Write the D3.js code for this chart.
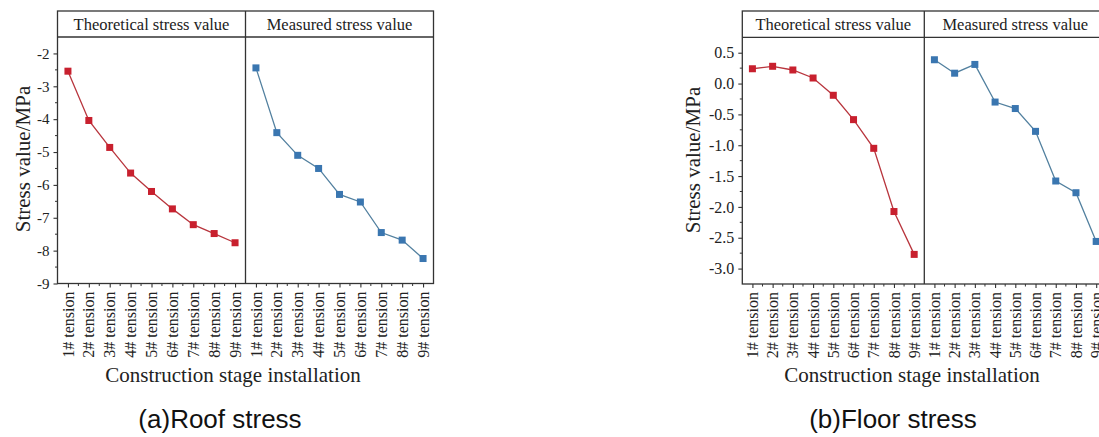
<!DOCTYPE html>
<html>
<head>
<meta charset="utf-8">
<script src="https://cdn.jsdelivr.net/npm/d3@7"></script>
<style>
  html, body { margin: 0; padding: 0; background: #fff; }
  svg { display: block; }
</style>
</head>
<body>
<svg id="fig" width="1099" height="437"></svg>
<script>
// Construction stages shared by both panels
const stages = ["1# tension", "2# tension", "3# tension", "4# tension", "5# tension",
                "6# tension", "7# tension", "8# tension", "9# tension"];
const panelTitles = ["Theoretical stress value", "Measured stress value"];

// (a) Roof stress, MPa
const roofTheoretical = [-2.54, -4.04, -4.86, -5.64, -6.20, -6.73, -7.21, -7.48, -7.76];
const roofMeasured    = [-2.44, -4.41, -5.10, -5.50, -6.29, -6.52, -7.45, -7.68, -8.24];
const roofTicks = [-9, -8, -7, -6, -5, -4, -3, -2];

// (b) Floor stress, MPa
const floorTheoretical = [0.24, 0.28, 0.22, 0.09, -0.19, -0.585, -1.05, -2.075, -2.77];
const floorMeasured    = [0.386, 0.168, 0.31, -0.30, -0.405, -0.775, -1.58, -1.77, -2.56];
const floorTicks = [-3.0, -2.5, -2.0, -1.5, -1.0, -0.5, 0.0, 0.5];

const RED_LINE = "#b8353d", RED_MARK = "#c8202e";
const BLUE_LINE = "#52809f", BLUE_MARK = "#3a76b0";
const FRAME = "#333";
const serif = "'Liberation Serif', 'Times New Roman', serif";

const svg = d3.select("#fig");

function drawChart(cfg) {
  const g = svg.append("g");
  const { x0, panelW, top, headBottom, bottom } = cfg;
  const y = d3.scaleLinear().domain(cfg.yDomain).range([bottom, headBottom]);

  const series = [
    { values: cfg.theoretical, line: RED_LINE, mark: RED_MARK },
    { values: cfg.measured, line: BLUE_LINE, mark: BLUE_MARK }
  ];

  series.forEach((s, i) => {
    const left = x0 + i * panelW;
    const x = d3.scalePoint().domain(stages).range([left, left + panelW]).padding(0.5);
    const pg = g.append("g");

    // header title
    pg.append("text")
      .attr("x", left + panelW / 2).attr("y", (top + headBottom) / 2)
      .attr("dy", "0.35em").attr("text-anchor", "middle")
      .attr("font-family", serif).attr("font-size", cfg.headSize).attr("fill", "#222")
      .text(panelTitles[i]);

    // connecting line and square markers
    const pts = stages.map((st, k) => [x(st), y(s.values[k])]);
    pg.append("path")
      .attr("d", d3.line()(pts))
      .attr("fill", "none").attr("stroke", s.line).attr("stroke-width", 1.3);
    pg.selectAll("rect.m").data(pts).join("rect")
      .attr("x", d => d[0] - 3.5).attr("y", d => d[1] - 3.5)
      .attr("width", 7).attr("height", 7).attr("fill", s.mark);

    // bottom axis with category labels
    const ax = d3.axisBottom(x).tickSize(4).tickFormat("");
    const axg = pg.append("g").attr("transform", `translate(0,${bottom})`).call(ax);
    axg.select(".domain").remove();
    axg.selectAll(".tick line").attr("stroke", FRAME).attr("stroke-width", 1.1);
    // minor ticks at category boundaries
    const step = x.step();
    pg.selectAll("line.minor").data(d3.range(1, stages.length)).join("line")
      .attr("x1", k => left + k * step).attr("x2", k => left + k * step)
      .attr("y1", bottom).attr("y2", bottom + 2.5)
      .attr("stroke", FRAME).attr("stroke-width", 1);
    pg.selectAll("text.cat").data(stages).join("text")
      .attr("transform", d => `translate(${x(d)},${bottom + 8}) rotate(-90)`)
      .attr("dy", "0.35em").attr("text-anchor", "end")
      .attr("font-family", serif).attr("font-size", cfg.catSize).attr("fill", "#222")
      .text(d => d);
  });

  // left value axis
  const yAxis = d3.axisLeft(y).tickValues(cfg.ticks).tickSize(4).tickPadding(4)
    .tickFormat(cfg.fmt);
  const yg = g.append("g").attr("transform", `translate(${x0},0)`).call(yAxis);
  yg.select(".domain").remove();
  yg.selectAll(".tick line").attr("stroke", FRAME).attr("stroke-width", 1.1);
  yg.selectAll(".tick text").attr("font-family", serif).attr("font-size", cfg.tickSize)
    .attr("fill", "#222");
  g.selectAll("line.yminor").data(cfg.minor).join("line")
    .attr("x1", x0 - 2.5).attr("x2", x0).attr("y1", d => y(d)).attr("y2", d => y(d))
    .attr("stroke", FRAME).attr("stroke-width", 1);

  // frame, header rule and panel divider
  g.append("rect").attr("x", x0).attr("y", top).attr("width", 2 * panelW)
    .attr("height", bottom - top).attr("fill", "none").attr("stroke", FRAME).attr("stroke-width", 1.3);
  g.append("line").attr("x1", x0).attr("x2", x0 + 2 * panelW)
    .attr("y1", headBottom).attr("y2", headBottom).attr("stroke", FRAME).attr("stroke-width", 1.3);
  g.append("line").attr("x1", x0 + panelW).attr("x2", x0 + panelW)
    .attr("y1", top).attr("y2", bottom).attr("stroke", FRAME).attr("stroke-width", 1.3);

  // axis titles
  g.append("text")
    .attr("transform", `translate(${cfg.yTitleX},${cfg.yTitleY}) rotate(-90)`)
    .attr("text-anchor", "middle").attr("dy", "0.35em")
    .attr("font-family", serif).attr("font-size", 21).attr("fill", "#222")
    .text("Stress value/MPa");
  g.append("text")
    .attr("x", cfg.xTitleX).attr("y", 382).attr("text-anchor", "middle")
    .attr("font-family", serif).attr("font-size", 21).attr("fill", "#222")
    .text("Construction stage installation");

  // caption
  g.append("text")
    .attr("x", cfg.capX).attr("y", 428).attr("text-anchor", "middle")
    .attr("font-family", "'Liberation Sans', Arial, sans-serif").attr("font-size", 26)
    .attr("fill", "#111")
    .text(cfg.caption);
}

drawChart({
  x0: 57.5, panelW: 188, top: 11, headBottom: 37, bottom: 283.5,
  yDomain: [-9, -1.5], ticks: roofTicks, fmt: d => String(d),
  minor: d3.range(-8.5, -1.5, 1),
  theoretical: roofTheoretical, measured: roofMeasured,
  headSize: 16.5, catSize: 16, tickSize: 15,
  yTitleX: 23, yTitleY: 159, xTitleX: 233, capX: 220,
  caption: "(a)Roof stress"
});

drawChart({
  x0: 742.3, panelW: 182, top: 11, headBottom: 37.3, bottom: 284,
  yDomain: [-3.25, 0.75], ticks: floorTicks, fmt: d => d.toFixed(1),
  minor: d3.range(-2.75, 0.75, 0.5),
  theoretical: floorTheoretical, measured: floorMeasured,
  headSize: 16.5, catSize: 16, tickSize: 16,
  yTitleX: 693, yTitleY: 160, xTitleX: 912, capX: 893,
  caption: "(b)Floor stress"
});
</script>
</body>
</html>
